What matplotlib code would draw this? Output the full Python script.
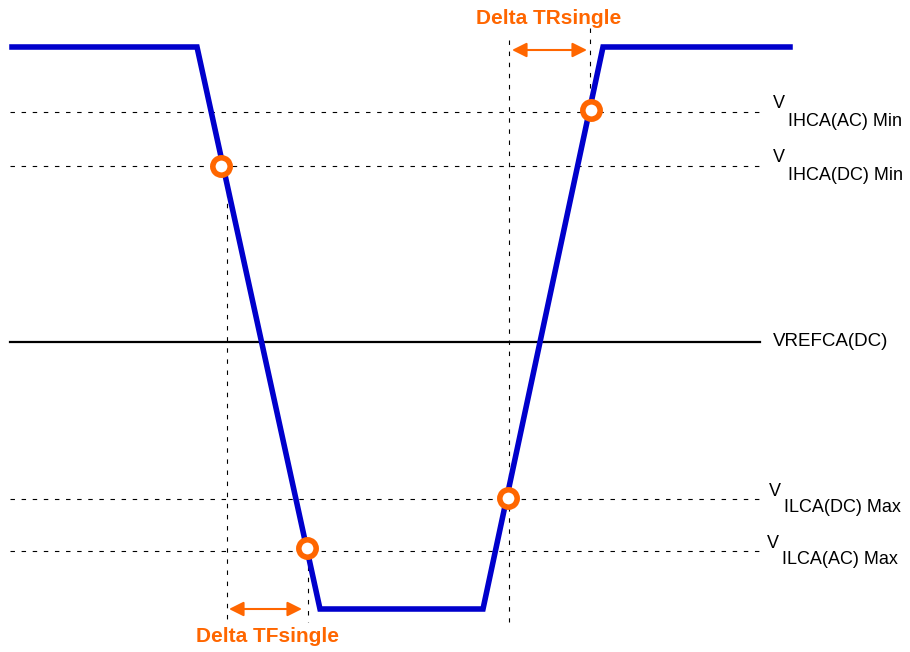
import matplotlib.pyplot as plt

# waveform corners (pixel-like coordinates, y grows downward)
wave_x = [12, 197, 320, 483, 603, 790]
wave_y = [47, 47, 609, 609, 47, 47]

# reference levels
level_y = [112, 166, 499, 551]
level_main = ["V", "V", "V", "V"]
level_sub = ["IHCA(AC) Min", "IHCA(DC) Min", "ILCA(DC) Max", "ILCA(AC) Max"]
level_lx = [773, 773, 769, 767]
vref_y = 342
vref_label = "VREFCA(DC)"

# crossing points
cross_x = [221, 307, 508, 591]
cross_y = [166, 548, 498, 110]

# timing guide lines: x, y top, y bottom
guide_x = [227, 308, 509, 590]
guide_top = [170, 555, 40, 28]
guide_bot = [622, 622, 622, 112]

# delta arrows
tf_arrow = (229, 302, 609)
tr_arrow = (512, 587, 50)

blue = '#0000CC'
orange = '#FF6600'

fig = plt.figure(figsize=(9.1, 6.52), dpi=100)
ax = fig.add_axes([0, 0, 1, 1])
ax.set_xlim(0, 910)
ax.set_ylim(652, 0)
ax.axis('off')

for y in level_y:
    ax.plot([10, 765], [y, y], color='black', lw=0.8, ls=(0, (4, 6)))
ax.plot([10, 760], [vref_y, vref_y], color='black', lw=1.6)

for x, t, b in zip(guide_x, guide_top, guide_bot):
    ax.plot([x, x], [t, b], color='black', lw=0.8, ls=(0, (4, 6)))

ax.plot(wave_x, wave_y, color=blue, lw=4.0, solid_joinstyle='miter', zorder=3)
ax.plot(cross_x, cross_y, 'o', ms=12.5, mfc='white', mec=orange, mew=4, zorder=4)

for x0, x1, y in [tf_arrow, tr_arrow]:
    ax.annotate('', xy=(x1, y), xytext=(x0, y),
                arrowprops=dict(arrowstyle='<|-|>', color=orange, lw=1.5,
                                mutation_scale=22, shrinkA=0, shrinkB=0))

ax.text(267, 637, 'Delta TFsingle', color=orange, fontsize=15, fontweight='bold',
        ha='center', va='center', family='Liberation Sans')
ax.text(549, 19, 'Delta TRsingle', color=orange, fontsize=15, fontweight='bold',
        ha='center', va='center', family='Liberation Sans')

for y, lx, m, s in zip(level_y, level_lx, level_main, level_sub):
    ax.text(lx, y - 8, m, fontsize=13, ha='left', va='center', family='Liberation Sans')
    ax.text(lx + 15, y + 9, s, fontsize=13, ha='left', va='center', family='Liberation Sans')
ax.text(773, vref_y, vref_label, fontsize=13.5, ha='left', va='center', family='Liberation Sans')

fig.savefig('out.png', dpi=100)
